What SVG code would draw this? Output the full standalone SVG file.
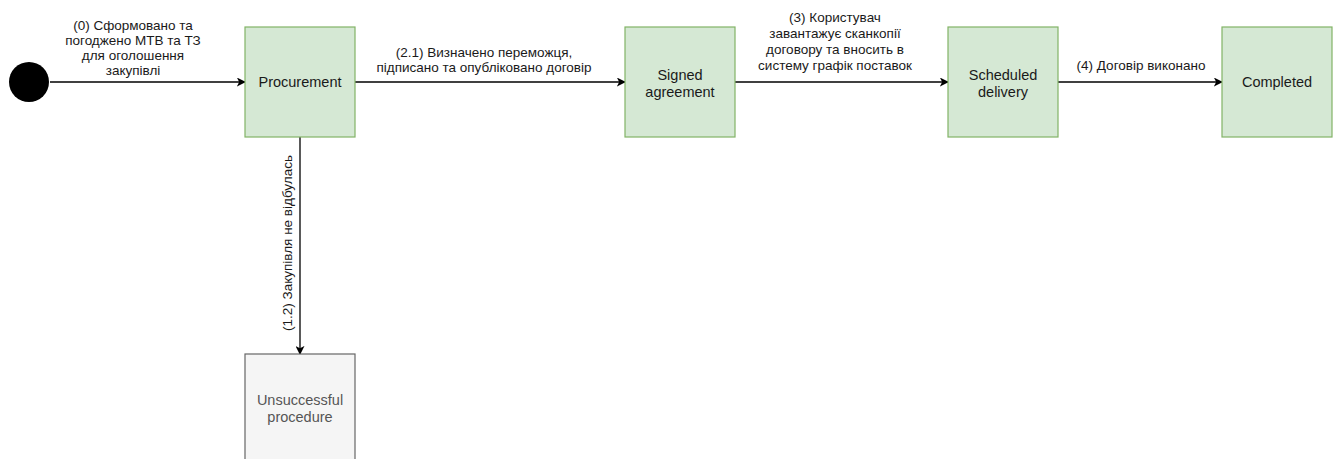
<svg xmlns="http://www.w3.org/2000/svg" width="1335" height="459" viewBox="0 0 1335 459">
<defs>
<style>
.node{fill:#d5e8d4;stroke:#82b366;stroke-width:1.2}
.gray{fill:#f5f5f5;stroke:#666666;stroke-width:1.2}
.nt{font-family:"Liberation Sans",Arial,sans-serif;font-size:14.5px;fill:#1a1a1a;text-anchor:middle}
.gt{font-family:"Liberation Sans",Arial,sans-serif;font-size:14.5px;fill:#555555;text-anchor:middle}
.lbl{font-family:"Liberation Sans",Arial,sans-serif;font-size:13.5px;fill:#1a1a1a;text-anchor:middle}
.edge{stroke:#000;stroke-width:1.3;fill:none;marker-end:url(#arr)}
</style>
<marker id="arr" viewBox="0 0 10 10" refX="9" refY="5" markerWidth="9" markerHeight="9" markerUnits="userSpaceOnUse" orient="auto">
<path d="M0,0 L10,5 L0,10 L2.5,5 Z" fill="#000"/>
</marker>
</defs>
<g id="connectors">
<line class="edge" x1="50" y1="82" x2="245" y2="82"/>
<line class="edge" x1="355" y1="82" x2="625" y2="82"/>
<line class="edge" x1="735" y1="82" x2="948" y2="82"/>
<line class="edge" x1="1058" y1="82" x2="1222" y2="82"/>
<line class="edge" x1="300" y1="137" x2="300" y2="354"/>
<text class="lbl"><tspan x="133" y="30">(0) Сформовано та</tspan><tspan x="133" y="45">погоджено МТВ та ТЗ</tspan><tspan x="133" y="60">для оголошення</tspan><tspan x="133" y="75">закупівлі</tspan></text>
<text class="lbl"><tspan x="484" y="57">(2.1) Визначено переможця,</tspan><tspan x="484" y="72">підписано та опубліковано договір</tspan></text>
<text class="lbl"><tspan x="835" y="22">(3) Користувач</tspan><tspan x="835" y="38">завантажує сканкопії</tspan><tspan x="835" y="54">договору та вносить в</tspan><tspan x="835" y="70">систему графік поставок</tspan></text>
<text class="lbl" x="1141" y="70">(4) Договір виконано</text>
<text class="lbl" transform="translate(292,243) rotate(-90)" x="0" y="0">(1.2) Закупівля не відбулась</text>
</g>
<g id="start"><circle cx="29" cy="82" r="20" fill="#000"/></g>
<g id="procurement"><rect class="node" x="245" y="27" width="110" height="110"/><text class="nt" x="300" y="87">Procurement</text></g>
<g id="signed"><rect class="node" x="625" y="27" width="110" height="110"/><text class="nt"><tspan x="680" y="80">Signed</tspan><tspan x="680" y="97">agreement</tspan></text></g>
<g id="scheduled"><rect class="node" x="948" y="27" width="110" height="110"/><text class="nt"><tspan x="1003" y="80">Scheduled</tspan><tspan x="1003" y="97">delivery</tspan></text></g>
<g id="completed"><rect class="node" x="1222" y="27" width="110" height="110"/><text class="nt" x="1277" y="87">Completed</text></g>
<g id="unsuccessful"><rect class="gray" x="245" y="354" width="110" height="110"/><text class="gt"><tspan x="300" y="405">Unsuccessful</tspan><tspan x="300" y="422">procedure</tspan></text></g>
</svg>
